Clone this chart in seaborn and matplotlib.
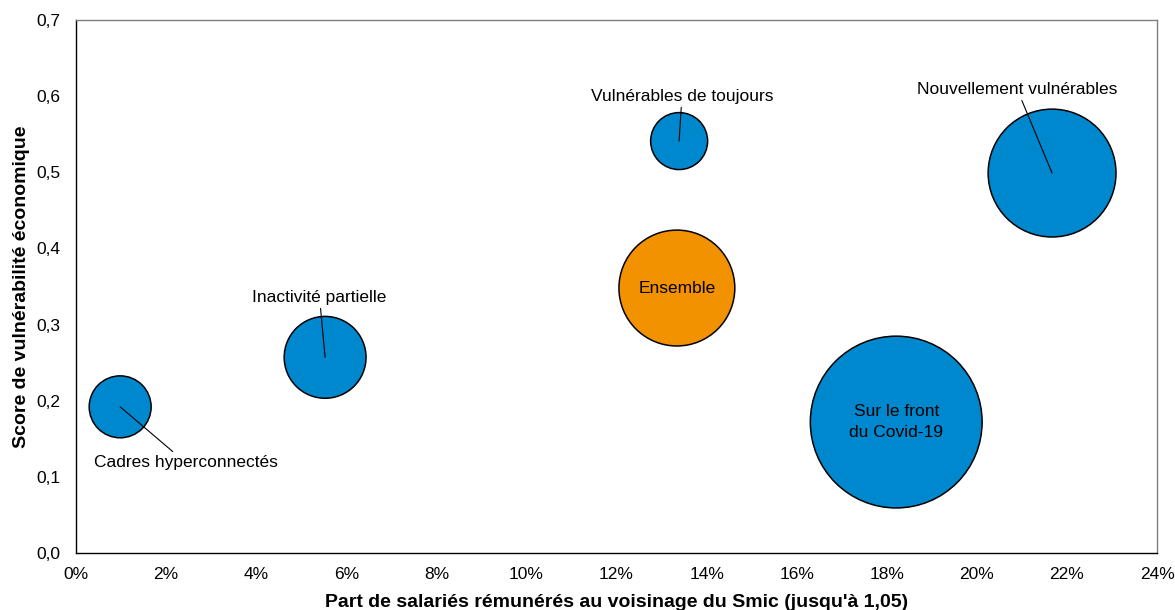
import numpy as np
import pandas as pd
import matplotlib.pyplot as plt
import seaborn as sns
from matplotlib.ticker import FuncFormatter, MultipleLocator

# Données
groupes = ["Cadres hyperconnectés", "Inactivité partielle", "Vulnérables de toujours",
           "Ensemble", "Nouvellement vulnérables", "Sur le front\ndu Covid-19"]
part_smic = [0.98, 5.53, 13.39, 13.34, 21.67, 18.21]   # en %
score_vuln = [0.192, 0.257, 0.541, 0.348, 0.499, 0.172]
poids = [13.0, 22.7, 11.0, 45.5, 55.4, 100.0]            # taille relative des bulles
type_groupe = ["groupe", "groupe", "groupe", "ensemble", "groupe", "groupe"]

df = pd.DataFrame({"groupe": groupes, "x": part_smic, "y": score_vuln,
                   "poids": poids, "type": type_groupe})

sns.set_theme(style="white")
plt.rcParams['font.family'] = ['Liberation Sans', 'DejaVu Sans']
plt.rcParams['text.color'] = 'black'
plt.rcParams['axes.labelcolor'] = 'black'
plt.rcParams['xtick.color'] = 'black'
plt.rcParams['ytick.color'] = 'black'

fig = plt.figure(figsize=(11.75, 6.1), dpi=100)
ax = fig.add_axes([0.0647, 0.0934, 0.92, 0.8738])

sns.scatterplot(data=df, x="x", y="y", hue="type", size="poids",
                palette={"groupe": "#0088CE", "ensemble": "#F39200"},
                sizes=(0, 15300), size_norm=(0, 100),
                edgecolor="black", linewidth=1.1, alpha=1, legend=False, ax=ax)

# étiquettes : décalage en points (sinon texte au centre de la bulle)
decalages = {"Cadres hyperconnectés": (47, -40),
             "Inactivité partielle": (-4, 43),
             "Vulnérables de toujours": (2, 32),
             "Nouvellement vulnérables": (-25, 60)}
for _, r in df.iterrows():
    if r["groupe"] in decalages:
        ax.annotate(r["groupe"], xy=(r["x"], r["y"]), xytext=decalages[r["groupe"]],
                    textcoords="offset points", ha="center", va="center", fontsize=12.5,
                    arrowprops=dict(arrowstyle="-", color="black", lw=0.8,
                                    shrinkA=0, shrinkB=0))
    else:
        ax.text(r["x"], r["y"], r["groupe"], ha="center", va="center",
                fontsize=12.5, linespacing=1.55)

ax.set_xlim(0, 24)
ax.set_ylim(0, 0.7)
ax.xaxis.set_major_locator(MultipleLocator(2))
ax.yaxis.set_major_locator(MultipleLocator(0.1))
ax.xaxis.set_major_formatter(FuncFormatter(lambda v, p: f"{v:.0f}%"))
ax.yaxis.set_major_formatter(FuncFormatter(lambda v, p: f"{v:.1f}".replace(".", ",")))
ax.tick_params(axis="both", length=0, labelsize=12.5)
ax.tick_params(axis="x", pad=10)
ax.tick_params(axis="y", pad=11)

ax.set_xlabel("Part de salariés rémunérés au voisinage du Smic (jusqu'à 1,05)",
              fontsize=14, fontweight="bold", labelpad=9)
ax.set_ylabel("Score de vulnérabilité économique", fontsize=14,
              fontweight="bold", labelpad=5)

for s in ["left", "bottom"]:
    ax.spines[s].set_color("black")
    ax.spines[s].set_linewidth(1)
for s in ["top", "right"]:
    ax.spines[s].set_color("#7f7f7f")
    ax.spines[s].set_linewidth(1)

fig.savefig("out.png", dpi=100)
